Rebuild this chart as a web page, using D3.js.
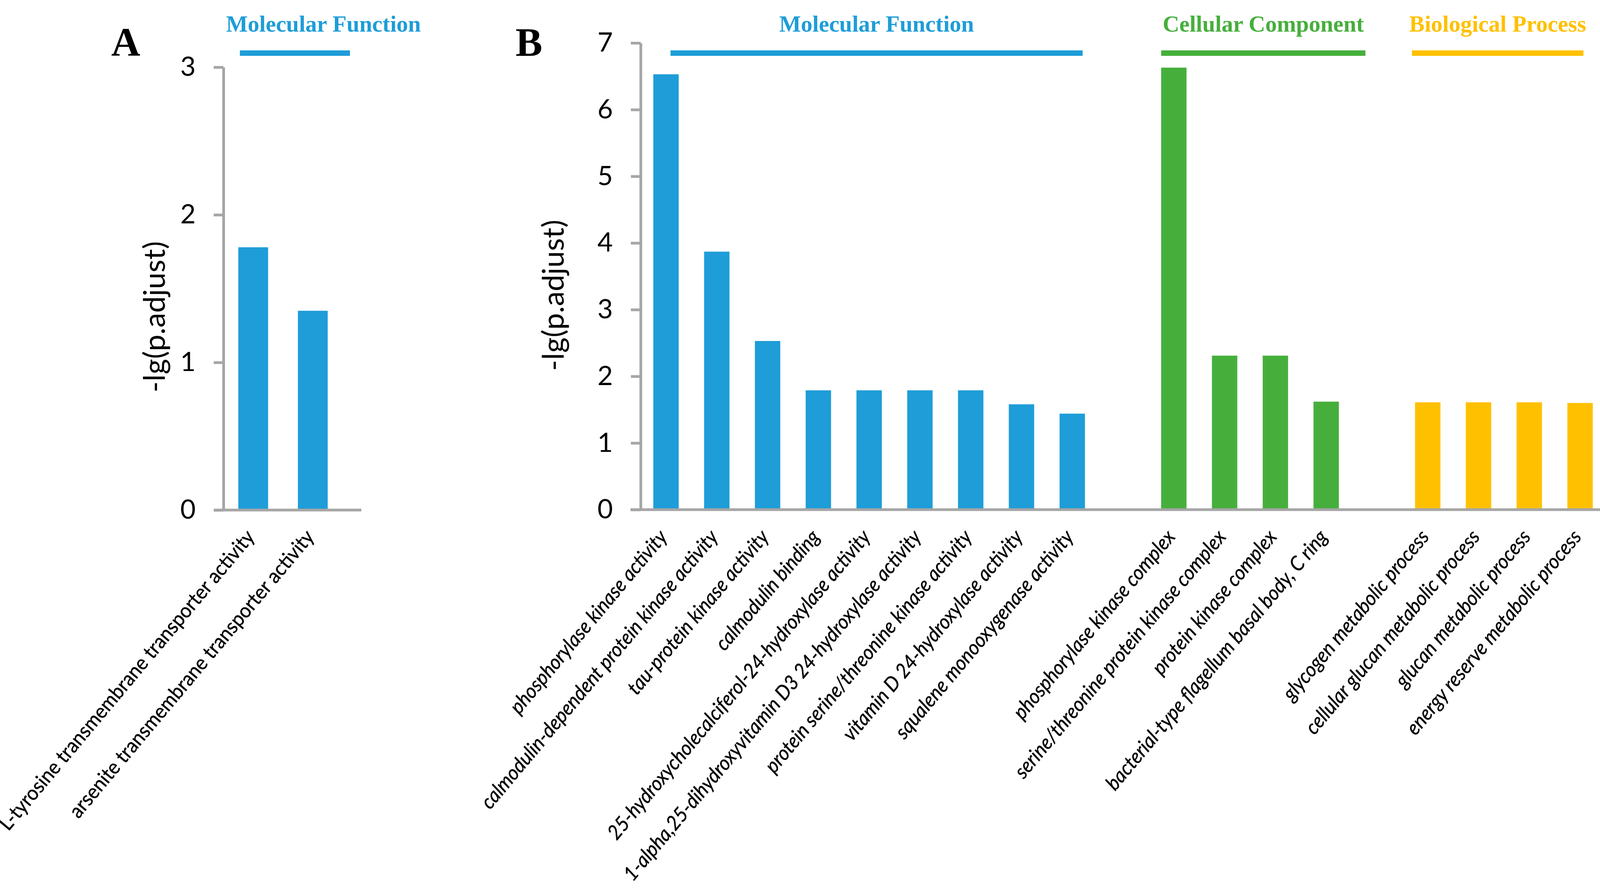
<!DOCTYPE html>
<html>
<head>
<meta charset="utf-8">
<script src="https://cdn.jsdelivr.net/npm/d3@7"></script>
<style>
  body { margin: 0; background: #fff; }
</style>
</head>
<body>
<div id="chart"></div>
<script>
// ---- Data ----
var termsA = ["L-tyrosine transmembrane transporter activity", "arsenite transmembrane transporter activity"];
var valuesA = [1.78, 1.35];
var ticksA = [0, 1, 2, 3];

var mfTerms = ["phosphorylase kinase activity", "calmodulin-dependent protein kinase activity",
  "tau-protein kinase activity", "calmodulin binding", "25-hydroxycholecalciferol-24-hydroxylase activity",
  "1-alpha,25-dihydroxyvitamin D3 24-hydroxylase activity", "protein serine/threonine kinase activity",
  "vitamin D 24-hydroxylase activity", "squalene monooxygenase activity"];
var mfValues = [6.53, 3.87, 2.53, 1.79, 1.79, 1.79, 1.79, 1.58, 1.44];

var ccTerms = ["phosphorylase kinase complex", "serine/threonine protein kinase complex",
  "protein kinase complex", "bacterial-type flagellum basal body, C ring"];
var ccValues = [6.63, 2.31, 2.31, 1.62];

var bpTerms = ["glycogen metabolic process", "cellular glucan metabolic process",
  "glucan metabolic process", "energy reserve metabolic process"];
var bpValues = [1.61, 1.61, 1.61, 1.60];

var ticksB = [0, 1, 2, 3, 4, 5, 6, 7];
var groupNames = ["Molecular Function", "Cellular Component", "Biological Process"];
var groupColors = ["#1e9dd8", "#46af3c", "#ffc000"];
var yTitle = "-lg(p.adjust)";

// ---- Layout ----
var svgWidth = 4142, svgHeight = 2284;
var axisColor = "#a6a6a6";
var labelFont = "Lato, 'Open Sans', sans-serif";
var serifFont = "'Liberation Serif', 'Times New Roman', serif";

var svg = d3.select("#chart").append("svg")
  .attr("width", svgWidth)
  .attr("height", svgHeight);

svg.append("rect").attr("width", svgWidth).attr("height", svgHeight).attr("fill", "#fff");

// draw a y axis with grey line and ticks
function drawYAxis(yScale, x, ticks) {
  var g = svg.append("g")
    .attr("transform", `translate(${x},0)`)
    .call(d3.axisLeft(yScale).tickValues(ticks).tickSize(25).tickSizeOuter(0).tickPadding(46).tickFormat(d3.format("d")));
  g.select(".domain").attr("stroke", axisColor).attr("stroke-width", 7);
  g.selectAll(".tick line").attr("stroke", axisColor).attr("stroke-width", 7);
  g.selectAll(".tick text")
    .attr("fill", "#000")
    .style("font-family", labelFont)
    .style("font-size", "68px");
  return g;
}

function drawYTitle(x, y) {
  svg.append("text")
    .attr("transform", `translate(${x},${y}) rotate(-90)`)
    .attr("text-anchor", "middle")
    .style("font-family", labelFont)
    .style("font-size", "76px")
    .text(yTitle);
}

// rotated category labels, ending just under each bar
// (slightly condensed so Lato behaves more like the narrow original face)
function drawCatLabels(xScale, terms, y, italic) {
  svg.append("g").selectAll("text")
    .data(terms)
    .enter()
    .append("text")
    .attr("transform", d => `translate(${xScale(d) + xScale.bandwidth() / 2 + 6},${y}) rotate(-50) scale(0.94,1)`)
    .attr("text-anchor", "end")
    .attr("stroke", "#000")
    .attr("stroke-width", 0.6)
    .style("font-family", labelFont)
    .style("font-style", italic ? "italic" : "normal")
    .style("font-size", "52px")
    .text(d => d);
}

function drawGroupHeader(name, color, x1, x2, titleX) {
  svg.append("line")
    .attr("x1", x1).attr("x2", x2)
    .attr("y1", 136).attr("y2", 136)
    .attr("stroke", color)
    .attr("stroke-width", 14);
  svg.append("text")
    .attr("x", titleX)
    .attr("y", 81)
    .attr("text-anchor", "middle")
    .attr("fill", color)
    .style("font-family", serifFont)
    .style("font-weight", "bold")
    .style("font-size", "59px")
    .text(name);
}

// ---- Panel A ----
var xA = d3.scaleBand().domain(termsA).range([572, 877]).paddingInner(0.5).paddingOuter(0.25);
var yA = d3.scaleLinear().domain([0, 3]).range([1306, 172]);

svg.append("g").selectAll("rect")
  .data(termsA)
  .enter()
  .append("rect")
  .attr("x", d => xA(d))
  .attr("y", (d, i) => yA(valuesA[i]))
  .attr("width", xA.bandwidth())
  .attr("height", (d, i) => yA(0) - yA(valuesA[i]))
  .attr("fill", groupColors[0]);

drawYAxis(yA, 572, ticksA);
svg.append("line")
  .attr("x1", 548).attr("x2", 925)
  .attr("y1", yA(0)).attr("y2", yA(0))
  .attr("stroke", axisColor).attr("stroke-width", 7);

drawYTitle(422, 811);
drawCatLabels(xA, termsA, 1376, false);

var aLine1 = xA(termsA[0]) + 4, aLine2 = xA(termsA[1]) + xA.bandwidth() + 57;
drawGroupHeader(groupNames[0], groupColors[0], aLine1, aLine2, 828);

svg.append("text")
  .attr("x", 322).attr("y", 143)
  .attr("text-anchor", "middle")
  .style("font-family", serifFont)
  .style("font-weight", "bold")
  .style("font-size", "103px")
  .text("A");

// ---- Panel B ----
var slotsB = mfTerms.concat(["gap1"], ccTerms, ["gap2"], bpTerms);
var barsB = [];
mfTerms.forEach((t, i) => barsB.push({ term: t, value: mfValues[i], group: 0 }));
ccTerms.forEach((t, i) => barsB.push({ term: t, value: ccValues[i], group: 1 }));
bpTerms.forEach((t, i) => barsB.push({ term: t, value: bpValues[i], group: 2 }));

var xB = d3.scaleBand().domain(slotsB).range([1640, 4110]).paddingInner(0.5).paddingOuter(0.25);
var yB = d3.scaleLinear().domain([0, 7]).range([1305, 110]);

svg.append("g").selectAll("rect")
  .data(barsB)
  .enter()
  .append("rect")
  .attr("x", d => xB(d.term))
  .attr("y", d => yB(d.value))
  .attr("width", xB.bandwidth())
  .attr("height", d => yB(0) - yB(d.value))
  .attr("fill", d => groupColors[d.group]);

drawYAxis(yB, 1640, ticksB);
svg.append("line")
  .attr("x1", 1614).attr("x2", 4110)
  .attr("y1", yB(0)).attr("y2", yB(0))
  .attr("stroke", axisColor).attr("stroke-width", 7);

drawYTitle(1443, 756);
drawCatLabels(xB, barsB.map(d => d.term), 1376, true);

// group brackets above panel B
var groupTerms = [mfTerms, ccTerms, bpTerms];
var bracketPad = [[44, -6], [0, 68], [-8, -24]];
groupTerms.forEach(function(terms, i) {
  var x1 = xB(terms[0]) + bracketPad[i][0];
  var x2 = xB(terms[terms.length - 1]) + xB.bandwidth() + bracketPad[i][1];
  drawGroupHeader(groupNames[i], groupColors[i], x1, x2, (x1 + x2) / 2);
});

svg.append("text")
  .attr("x", 1354).attr("y", 143)
  .attr("text-anchor", "middle")
  .style("font-family", serifFont)
  .style("font-weight", "bold")
  .style("font-size", "103px")
  .text("B");
</script>
</body>
</html>
